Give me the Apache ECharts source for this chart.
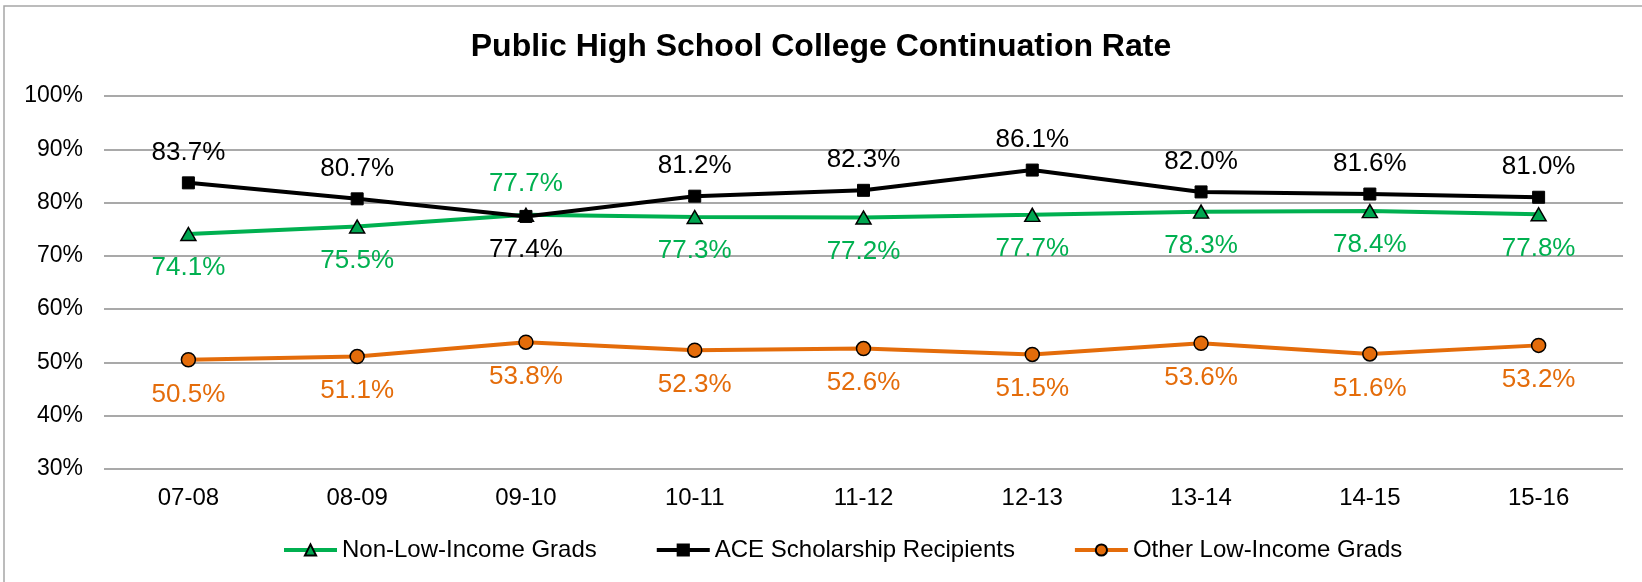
<!DOCTYPE html>
<html>
<head>
<meta charset="utf-8">
<title>Public High School College Continuation Rate</title>
<script src="https://cdn.jsdelivr.net/npm/echarts@6/dist/echarts.min.js"></script>
<style>
  html, body { margin: 0; padding: 0; background: #fff; }
  #main { width: 1642px; height: 582px; }
</style>
</head>
<body>
<div id="main"></div>
<script>
// 数据
var years = ['07-08', '08-09', '09-10', '10-11', '11-12', '12-13', '13-14', '14-15', '15-16'];
var nonLowIncome = [74.1, 75.5, 77.7, 77.3, 77.2, 77.7, 78.3, 78.4, 77.8];
var aceRecipients = [83.7, 80.7, 77.4, 81.2, 82.3, 86.1, 82.0, 81.6, 81.0];
var otherLowIncome = [50.5, 51.1, 53.8, 52.3, 52.6, 51.5, 53.6, 51.6, 53.2];
// 标签位置翻转的年份
var flipYears = ['09-10'];

var fontName = '"Liberation Sans", Arial, sans-serif';

var myChart = echarts.init(document.getElementById('main'));

// 生成带标签位置的数据
function makeData(values, normalPos, flipPos) {
	var arr = [];
	for (var i = 0; i < values.length; i++) {
		var pos = flipYears.indexOf(years[i]) >= 0 ? flipPos : normalPos;
		arr.push({
			value: values[i],
			label: { position: pos, distance: pos == 'top' ? 11 : 14 }
		});
	}
	return arr;
}

function pct(p) {
	return p.value.toFixed(1) + '%';
}

option = {
	animation: false,
	textStyle: { fontFamily: fontName },
	graphic: [{
		type: 'rect',
		shape: { x: 4, y: 6, width: 1700, height: 700 },
		style: { fill: 'none', stroke: '#a6a6a6', lineWidth: 1.5 },
		silent: true
	}],
	title: {
		text: 'Public High School College Continuation Rate',
		left: 'center',
		top: 26,
		textStyle: { fontSize: 32, fontWeight: 'bold', color: '#000', fontFamily: fontName }
	},
	legend: {
		left: 277,
		top: 533,
		itemWidth: 53,
		itemHeight: 14,
		itemGap: 58,
		lineStyle: { width: 4 },
		textStyle: { fontSize: 24, color: '#000', fontFamily: fontName },
		data: ['Non-Low-Income Grads', 'ACE Scholarship Recipients', 'Other Low-Income Grads']
	},
	grid: {
		left: 104,
		right: 19,
		top: 96,
		bottom: 113
	},
	xAxis: {
		type: 'category',
		boundaryGap: true,
		data: years,
		axisLine: { show: false },
		axisTick: { show: false },
		axisLabel: { fontSize: 24, color: '#000', margin: 17, fontFamily: fontName }
	},
	yAxis: {
		type: 'value',
		min: 30,
		max: 100,
		interval: 10,
		axisLine: { show: false },
		axisTick: { show: false },
		axisLabel: { formatter: '{value}%', fontSize: 23, color: '#000', margin: 21, fontFamily: fontName },
		splitLine: { lineStyle: { color: '#8c8c8c', width: 1.5 } }
	},
	series: [{
		name: 'Non-Low-Income Grads',
		type: 'line',
		data: makeData(nonLowIncome, 'bottom', 'top'),
		symbol: 'triangle',
		symbolSize: [15, 13],
		lineStyle: { color: '#00b050', width: 4 },
		itemStyle: { color: '#00a650', borderColor: '#000', borderWidth: 1.5 },
		label: { show: true, formatter: pct, fontSize: 26, color: '#00b050', fontFamily: fontName },
		z: 2
	}, {
		name: 'ACE Scholarship Recipients',
		type: 'line',
		data: makeData(aceRecipients, 'top', 'bottom'),
		symbol: 'rect',
		symbolSize: 12,
		lineStyle: { color: '#000', width: 4 },
		itemStyle: { color: '#000', borderColor: '#000', borderWidth: 1 },
		label: { show: true, formatter: pct, fontSize: 26, color: '#000', fontFamily: fontName },
		z: 3
	}, {
		name: 'Other Low-Income Grads',
		type: 'line',
		data: makeData(otherLowIncome, 'bottom', 'bottom'),
		symbol: 'circle',
		symbolSize: 14,
		lineStyle: { color: '#e46c0a', width: 4 },
		itemStyle: { color: '#e46c0a', borderColor: '#000', borderWidth: 1.5 },
		label: { show: true, formatter: pct, fontSize: 26, color: '#e46c0a', fontFamily: fontName },
		z: 2
	}]
};
myChart.setOption(option);
</script>
</body>
</html>
